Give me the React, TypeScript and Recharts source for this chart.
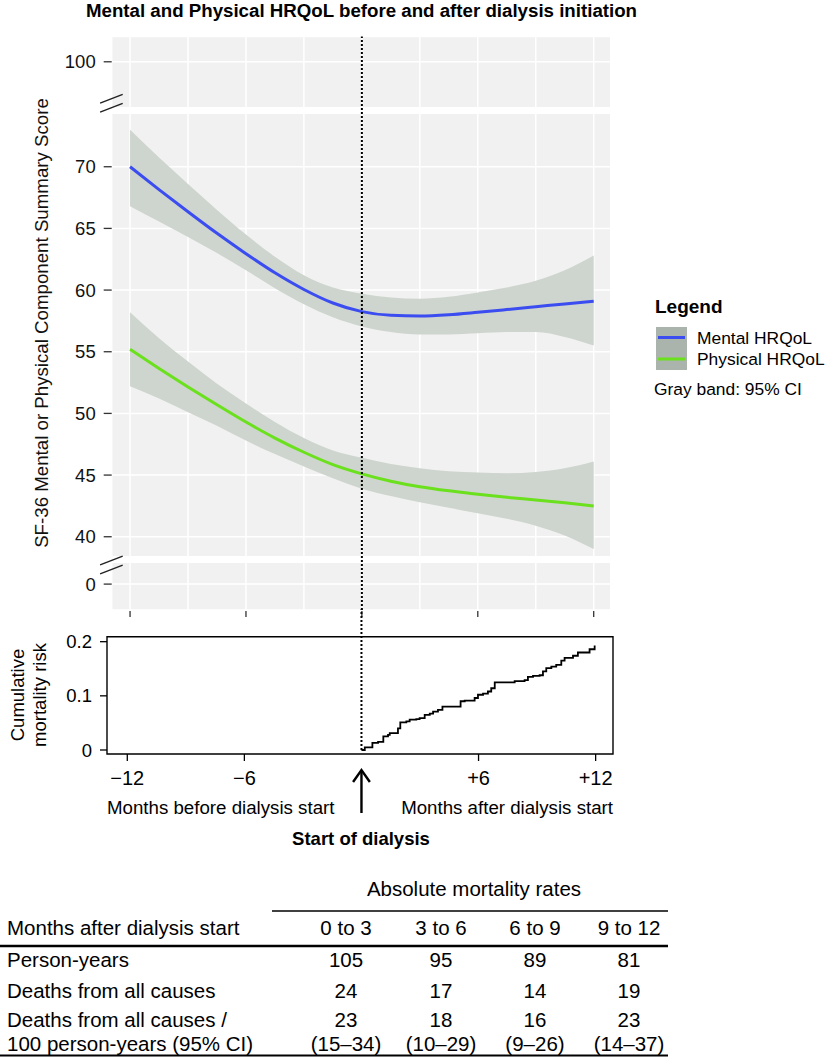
import React from 'react';
import {
  ComposedChart,
  LineChart,
  Line,
  Area,
  XAxis,
  YAxis,
  CartesianGrid,
  ReferenceLine,
  ReferenceArea,
  ReferenceDot,
} from 'recharts';

// ---------- data ----------
const months = [-12, -10.5, -9, -7.5, -6, -4.5, -3, -1.5, 0, 1.5, 3, 4.5, 6, 7.5, 9, 10.5, 12];
const mentalMean = [70.0, 68.15, 66.35, 64.6, 62.95, 61.4, 60.05, 58.95, 58.25, 57.95, 57.9, 58.0, 58.2, 58.42, 58.65, 58.88, 59.1];
const mentalLow = [66.8, 65.55, 64.3, 63.0, 61.6, 60.15, 58.85, 57.8, 57.05, 56.6, 56.4, 56.4, 56.5, 56.6, 56.6, 56.2, 55.5];
const mentalHigh = [73.0, 70.75, 68.6, 66.5, 64.5, 62.7, 61.2, 60.2, 59.7, 59.4, 59.3, 59.45, 59.8, 60.2, 60.75, 61.6, 62.8];
const physicalMean = [55.2, 53.65, 52.15, 50.7, 49.3, 48.0, 46.85, 45.85, 45.1, 44.5, 44.05, 43.72, 43.45, 43.2, 42.98, 42.75, 42.5];
const physicalLow = [52.2, 51.2, 50.1, 49.0, 47.8, 46.7, 45.7, 44.75, 43.9, 43.3, 42.8, 42.35, 41.9, 41.45, 40.9, 40.1, 39.0];
const physicalHigh = [58.2, 56.1, 54.2, 52.4, 50.8, 49.3, 48.0, 47.0, 46.4, 45.9, 45.55, 45.3, 45.2, 45.15, 45.25, 45.55, 46.1];

const riskMonths = [0, 0.17, 0.56, 0.85, 1.12, 1.36, 1.45, 1.87, 1.99, 2.3, 2.47, 2.81, 2.98, 3.24, 3.5, 3.67, 3.92, 4.15, 5.08, 5.29, 5.8, 5.97, 6.23, 6.48, 6.65, 6.83, 7.85, 8.36, 8.53, 8.79, 9.13, 9.3, 9.47, 9.73, 9.98, 10.24, 10.41, 10.84, 11.09, 11.69, 11.95];
const cumulativeRisk = [0, 0.005, 0.013, 0.015, 0.025, 0.028, 0.031, 0.04, 0.051, 0.053, 0.056, 0.057, 0.059, 0.065, 0.067, 0.071, 0.074, 0.08, 0.09, 0.091, 0.096, 0.102, 0.104, 0.108, 0.114, 0.125, 0.127, 0.129, 0.135, 0.137, 0.138, 0.145, 0.151, 0.154, 0.157, 0.165, 0.17, 0.174, 0.18, 0.186, 0.193];

const gridMonths = [-12, -9, -6, -3, 0, 3, 6, 9, 12];
const labelledMonths = [-12, -6, 0, 6, 12];
const monthLabels = ['\u221212', '\u22126', '0', '+6', '+12'];
const mainYTicks = [40, 45, 50, 55, 60, 65, 70];
const riskTicks = [0, 0.1, 0.2];

const tableColumns = ['0 to 3', '3 to 6', '6 to 9', '9 to 12'];
const personYears = ['105', '95', '89', '81'];
const deaths = ['24', '17', '14', '19'];
const ratePer100 = ['23', '18', '16', '23'];
const rateCI = ['(15\u201334)', '(10\u201329)', '(9\u201326)', '(14\u201337)'];

// broken y axis: facets shown on one linear display axis
const upperFacet = { label: 100, at: 78.51 };
const lowerFacet = { label: 0, at: 36.16 };
const upperGap = [74.27, 74.84];
const lowerGap = [37.87, 38.44];
const upperBreakMark = 75.14;
const lowerBreakMark = 37.7;

// ---------- styles ----------
const FONT = "'Liberation Sans', Arial, Helvetica, sans-serif";
const MENTAL = '#3B4DF0';
const PHYSICAL = '#6AE11C';
const BAND = '#CED4CE';
const PANEL = '#F0F1F0';

const hrqolData = months.map((m, i) => ({
  month: m,
  mental: mentalMean[i],
  physical: physicalMean[i],
  mentalBand: [mentalLow[i], mentalHigh[i]],
  physicalBand: [physicalLow[i], physicalHigh[i]],
}));

const riskData = riskMonths.map((m, i) => ({ month: m, risk: cumulativeRisk[i] }));

const topXDomain = [-12.95, 12.88];
const topYDomain = [34.06, 80.56];
const botXDomain = [-13.04, 12.89];
const botYDomain = [-0.0074, 0.2092];

const topYTicks = [lowerFacet.at, ...mainYTicks, upperFacet.at];
const topYFormat = (v: number) =>
  v === lowerFacet.at ? String(lowerFacet.label) : v === upperFacet.at ? String(upperFacet.label) : String(v);

const BreakMark = (props: any) => {
  const { cx, cy } = props;
  return (
    <g stroke="#222" strokeWidth={1.4}>
      <line x1={cx - 11.6} y1={cy - 0.2} x2={cx + 11} y2={cy - 9} />
      <line x1={cx - 11.6} y1={cy + 8.8} x2={cx + 11} y2={cy} />
    </g>
  );
};

const TopTick = (props: any) => {
  const { x, y, payload } = props;
  if (payload.value % 6 !== 0) return <g />;
  return <line x1={x} x2={x} y1={y + 1} y2={y + 7} stroke="#333" strokeWidth={1.3} />;
};

const BottomTick = (props: any) => {
  const { x, y, payload } = props;
  const idx = labelledMonths.indexOf(payload.value);
  if (payload.value === 0) {
    return (
      <g stroke="#000" strokeWidth={2.4} fill="none">
        <line x1={x} x2={x} y1={y + 16} y2={y + 59} />
        <polyline points={`${x - 8.4},${y + 28} ${x},${y + 16} ${x + 8.4},${y + 28}`} />
      </g>
    );
  }
  return (
    <g>
      <line x1={x} x2={x} y1={y} y2={y + 7} stroke="#000" strokeWidth={1.3} />
      <text x={x} y={y + 31} textAnchor="middle" fontSize={20} fontFamily={FONT} fill="#000">
        {monthLabels[idx]}
      </text>
    </g>
  );
};

const colCenters = [346, 441, 535, 629];
const rowLabels = ['Person-years', 'Deaths from all causes', 'Deaths from all causes /', '100 person-years (95% CI)'];
const rowValues = [personYears, deaths, ratePer100, rateCI];
const rowBaselines = [967, 997.5, 1027, 1050.5];

export default function App() {
  return (
    <div style={{ position: 'absolute', left: 0, top: 0, width: 825, height: 1057, background: '#fff', fontFamily: FONT }}>
      <svg width={825} height={1057} style={{ position: 'absolute', left: 0, top: 0 }}>
        <text x={361.5} y={17} textAnchor="middle" fontSize={18.7} fontWeight="bold" fontFamily={FONT} fill="#000">
          Mental and Physical HRQoL before and after dialysis initiation
        </text>
        <text
          x={48}
          y={323}
          transform="rotate(-90 48 323)"
          textAnchor="middle"
          fontSize={18.7}
          fontFamily={FONT}
          fill="#111"
        >
          SF-36 Mental or Physical Component Summary Score
        </text>
        {/* legend */}
        <text x={655} y={312.5} fontSize={19} fontWeight="bold" fontFamily={FONT} fill="#000">Legend</text>
        <rect x={656} y={327} width={31} height={43} fill="#AAB3AC" />
        <line x1={658} x2={685} y1={337.5} y2={337.5} stroke={MENTAL} strokeWidth={3} />
        <line x1={658} x2={685} y1={359} y2={359} stroke={PHYSICAL} strokeWidth={3} />
        <text x={697} y={343.5} fontSize={17.4} fontFamily={FONT} fill="#000">Mental HRQoL</text>
        <text x={697} y={365} fontSize={17.4} fontFamily={FONT} fill="#000">Physical HRQoL</text>
        <text x={654} y={394.5} fontSize={17.4} fontFamily={FONT} fill="#000">Gray band: 95% CI</text>
        {/* bottom panel y label */}
        <text transform="rotate(-90 24 695)" x={24} y={695} textAnchor="middle" fontSize={18.5} fontFamily={FONT} fill="#000">
          Cumulative
        </text>
        <text transform="rotate(-90 46 695)" x={46} y={695} textAnchor="middle" fontSize={18.5} fontFamily={FONT} fill="#000">
          mortality risk
        </text>
        {/* annotations under the time axis */}
        <text x={107} y={814} fontSize={18.7} fontFamily={FONT} fill="#000">Months before dialysis start</text>
        <text x={613} y={814} textAnchor="end" fontSize={18.7} fontFamily={FONT} fill="#000">Months after dialysis start</text>
        <text x={361} y={845} textAnchor="middle" fontSize={18.5} fontWeight="bold" fontFamily={FONT} fill="#000">
          Start of dialysis
        </text>
        {/* table */}
        <g fontFamily={FONT} fontSize={20.5} fill="#000">
          <text x={474} y={895.5} textAnchor="middle">Absolute mortality rates</text>
          <line x1={272} x2={668} y1={911} y2={911} stroke="#000" strokeWidth={1.6} />
          <text x={7} y={935}>Months after dialysis start</text>
          {tableColumns.map((c, i) => (
            <text key={c} x={colCenters[i]} y={935} textAnchor="middle">{c}</text>
          ))}
          <line x1={0} x2={668} y1={946} y2={946} stroke="#000" strokeWidth={2.4} />
          {rowLabels.map((label, r) => (
            <g key={label}>
              <text x={7} y={rowBaselines[r]}>{label}</text>
              {rowValues[r].map((v, i) => (
                <text key={i} x={colCenters[i]} y={rowBaselines[r]} textAnchor="middle">{v}</text>
              ))}
            </g>
          ))}
          <line x1={0} x2={668} y1={1055.5} y2={1055.5} stroke="#000" strokeWidth={2.2} />
        </g>
      </svg>

      <div style={{ position: 'absolute', left: 0, top: 0 }}>
        <ComposedChart
          width={825}
          height={640}
          data={hrqolData}
          margin={{ top: 36.5, right: 214.3, bottom: 0, left: 0 }}
        >
          <CartesianGrid fill={PANEL} fillOpacity={1} stroke="#FFFFFF" strokeWidth={1.5} />
          <XAxis
            type="number"
            dataKey="month"
            domain={topXDomain}
            ticks={gridMonths}
            allowDataOverflow
            interval={0}
            axisLine={false}
            tickLine={false}
            tickSize={0}
            tickMargin={0}
            height={30}
            tick={<TopTick />}
          />
          <YAxis
            type="number"
            domain={topYDomain}
            ticks={topYTicks}
            allowDataOverflow
            interval={0}
            width={111.7}
            axisLine={false}
            tickLine={{ stroke: '#333', strokeWidth: 1.3 }}
            tickSize={8}
            tickMargin={8}
            tickFormatter={topYFormat}
            tick={{ fontSize: 18.5, fill: '#111', fontFamily: FONT }}
          />
          <ReferenceArea y1={upperGap[0]} y2={upperGap[1]} fill="#FFFFFF" fillOpacity={1} stroke="none" ifOverflow="visible" />
          <ReferenceArea y1={lowerGap[0]} y2={lowerGap[1]} fill="#FFFFFF" fillOpacity={1} stroke="none" ifOverflow="visible" />
          <Area type="monotone" dataKey="mentalBand" stroke="none" fill={BAND} fillOpacity={1} isAnimationActive={false} dot={false} activeDot={false} />
          <Area type="monotone" dataKey="physicalBand" stroke="none" fill={BAND} fillOpacity={1} isAnimationActive={false} dot={false} activeDot={false} />
          <Line type="monotone" dataKey="mental" stroke={MENTAL} strokeWidth={3} dot={false} activeDot={false} isAnimationActive={false} />
          <Line type="monotone" dataKey="physical" stroke={PHYSICAL} strokeWidth={3} dot={false} activeDot={false} isAnimationActive={false} />
          <ReferenceLine x={0} stroke="#000" strokeWidth={2} strokeDasharray="2 2" ifOverflow="visible" />
          <ReferenceDot x={topXDomain[0]} y={upperBreakMark} ifOverflow="visible" shape={<BreakMark />} />
          <ReferenceDot x={topXDomain[0]} y={lowerBreakMark} ifOverflow="visible" shape={<BreakMark />} />
        </ComposedChart>
      </div>

      <div style={{ position: 'absolute', left: 0, top: 600 }}>
        <LineChart
          width={825}
          height={230}
          data={riskData}
          margin={{ top: 36.7, right: 212, bottom: 0, left: 0 }}
        >
          <XAxis
            type="number"
            dataKey="month"
            domain={botXDomain}
            ticks={labelledMonths}
            allowDataOverflow
            interval={0}
            axisLine={false}
            tickLine={false}
            tickSize={0}
            tickMargin={0}
            height={76}
            tick={<BottomTick />}
          />
          <YAxis
            type="number"
            domain={botYDomain}
            ticks={riskTicks}
            allowDataOverflow
            interval={0}
            width={107}
            axisLine={false}
            tickLine={{ stroke: '#000', strokeWidth: 1.3 }}
            tickSize={7}
            tickMargin={8}
            tickFormatter={(v: number) => (v === 0 ? '0' : v.toFixed(1))}
            tick={{ fontSize: 18.5, fill: '#000', fontFamily: FONT }}
          />
          <ReferenceArea
            x1={botXDomain[0]}
            x2={botXDomain[1]}
            y1={botYDomain[0]}
            y2={botYDomain[1]}
            fill="none"
            stroke="#000"
            strokeWidth={1.4}
            ifOverflow="visible"
          />
          <Line type="stepAfter" dataKey="risk" stroke="#000" strokeWidth={1.8} dot={false} activeDot={false} isAnimationActive={false} />
          <ReferenceLine
            segment={[{ x: 0, y: 0 }, { x: 0, y: 0.26 }]}
            stroke="#000"
            strokeWidth={2}
            strokeDasharray="2 2"
            ifOverflow="visible"
          />
        </LineChart>
      </div>
    </div>
  );
}
